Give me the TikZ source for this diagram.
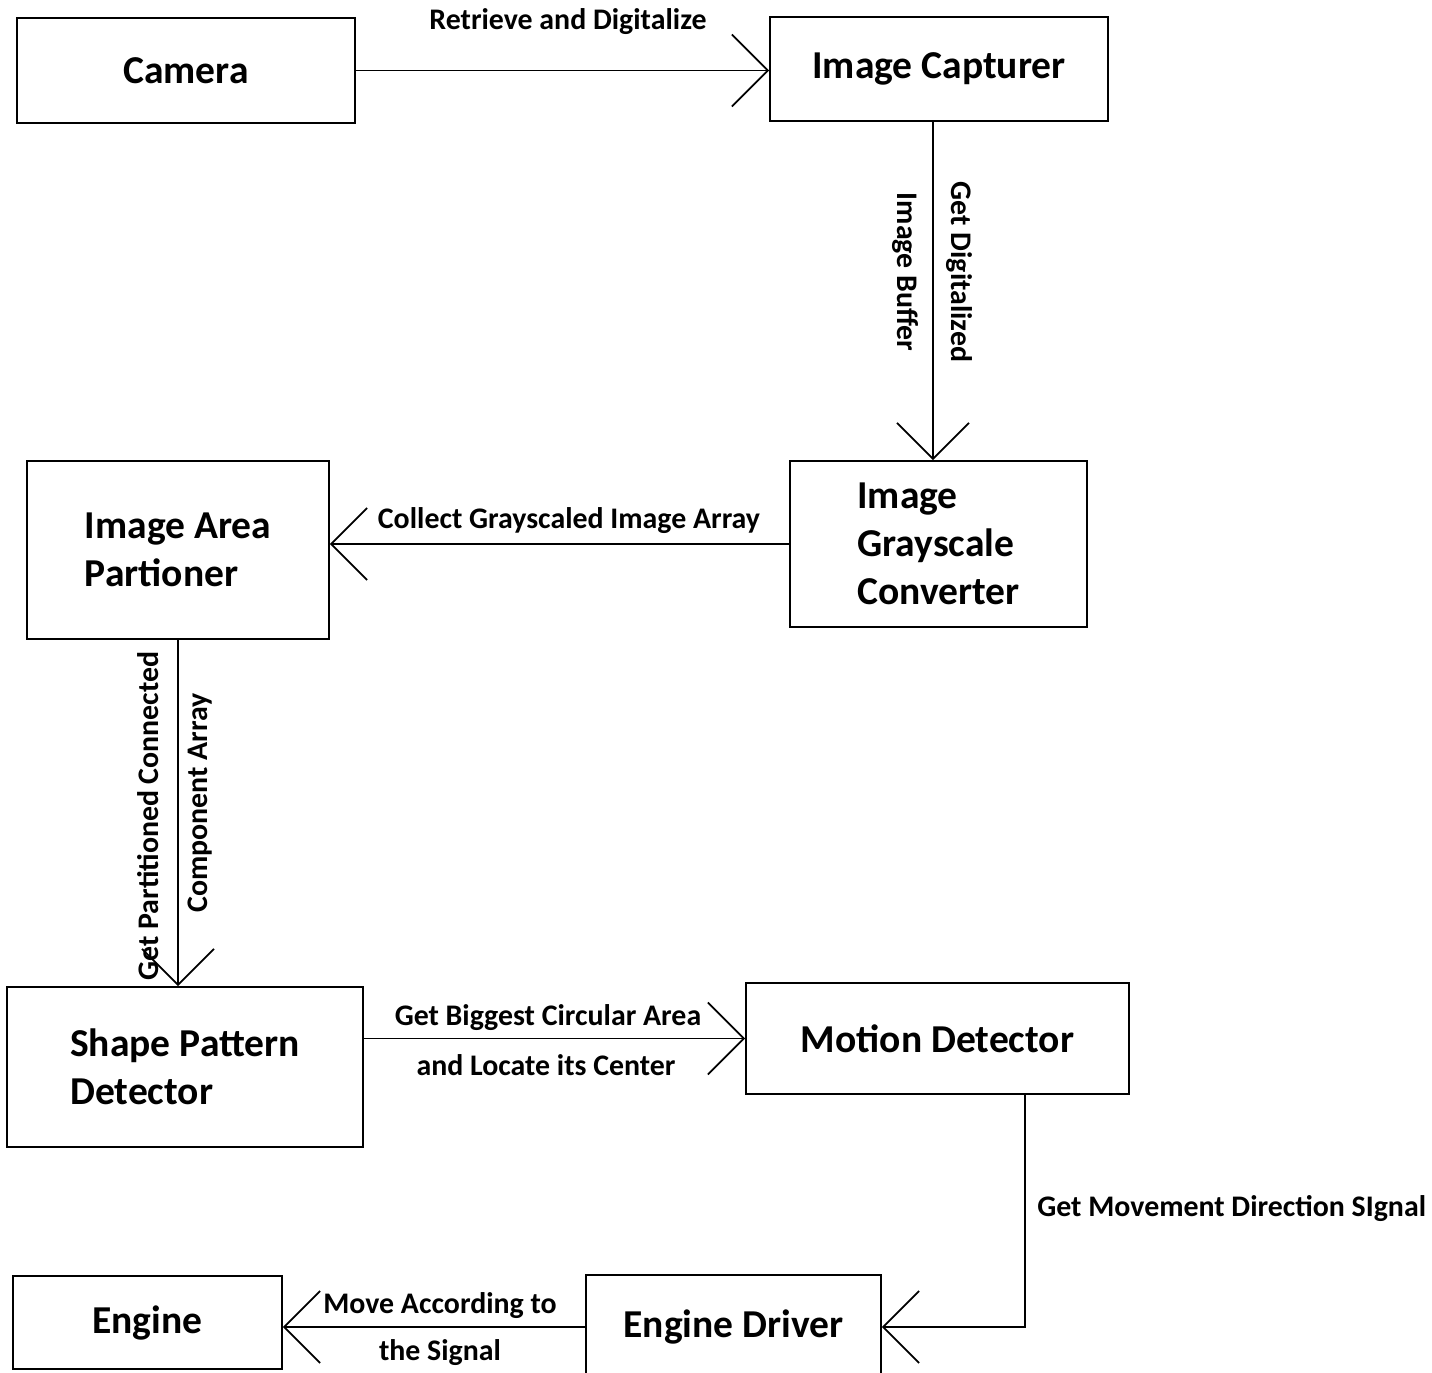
\documentclass[tikz,border=0pt]{standalone}
\usepackage{fontspec}
\setmainfont{Carlito}
\usetikzlibrary{positioning,calc,arrows.meta}

\tikzset{
  block/.style={draw, line width=1pt, font=\fontsize{22.5}{27.3}\selectfont\bfseries, align=left, inner sep=0pt},
  lbl/.style={font=\fontsize{17}{20}\selectfont\bfseries, inner sep=0pt},
  flow/.style={line width=1pt, -{Straight Barb[length=0.72cm, width=1.44cm, line width=1pt]}},
}

\begin{document}
\begin{tikzpicture}[x=0.02cm, y=-0.02cm]
	\useasboundingbox (0,0) rectangle (1432,1372);

	% blocks
	\node[block, minimum width=6.76cm, minimum height=2.1cm] (cam) at (186,70.5) {Camera};
	\node[block, minimum width=6.76cm, minimum height=2.08cm] (cap) at (939,69) {Image Capturer};
	\node[block, minimum width=5.94cm, minimum height=3.32cm] (gray) at (938.5,544) {Image\\Grayscale\\Converter};
	\node[block, minimum width=6.04cm, minimum height=3.56cm] (part) at (178,550) {Image Area\\Partioner};
	\node[block, minimum width=7.12cm, minimum height=3.2cm] (shape) at (185,1067) {Shape Pattern\\Detector};
	\node[block, minimum width=7.66cm, minimum height=2.22cm] (motion) at (937.5,1038.5) {Motion Detector};
	\node[block, minimum width=5.9cm, minimum height=2.08cm] (drv) at (733.5,1327) {Engine Driver};
	\node[block, minimum width=5.38cm, minimum height=1.86cm] (eng) at (147.5,1322.5) {Engine};

	% labels
	\node[lbl] (l1) at (568,22) {Retrieve and Digitalize};
	\node[lbl, rotate=-90] (l2a) at (959,272) {Get Digitalized};
	\node[lbl, rotate=-90] (l2b) at (905,272) {Image Buffer};
	\node[lbl] (l3) at (569,521) {Collect Grayscaled Image Array};
	\node[lbl, rotate=90] (l4a) at (148,816) {Get Partitioned Connected};
	\node[lbl, rotate=90] (l4b) at (200,803) {Component Array};
	\node[lbl] (l5a) at (548,1018) {Get Biggest Circular Area};
	\node[lbl] (l5b) at (546,1065) {and Locate its Center};
	\node[lbl, anchor=west] (l6) at (1037,1209) {Get Movement Direction SIgnal};
	\node[lbl] (l7a) at (440,1306) {Move According to};
	\node[lbl] (l7b) at (440,1353) {the Signal};

	% arrows
	\draw[flow] (cam.east) -- (cam.east -| cap.west);
	\draw[flow] ([xshift=-0.12cm]cap.south) -- ([xshift=-0.12cm]cap.south |- gray.north);
	\draw[flow] (gray.west) -- (gray.west -| part.east);
	\draw[flow] (part.south) -- (part.south |- shape.north);
	\draw[flow] (motion.west -| shape.east) -- (motion.west);
	\draw[flow] ([xshift=1.75cm]motion.south) |- (drv.east);
	\draw[flow] (drv.west) -- (drv.west -| eng.east);
\end{tikzpicture}
\end{document}
